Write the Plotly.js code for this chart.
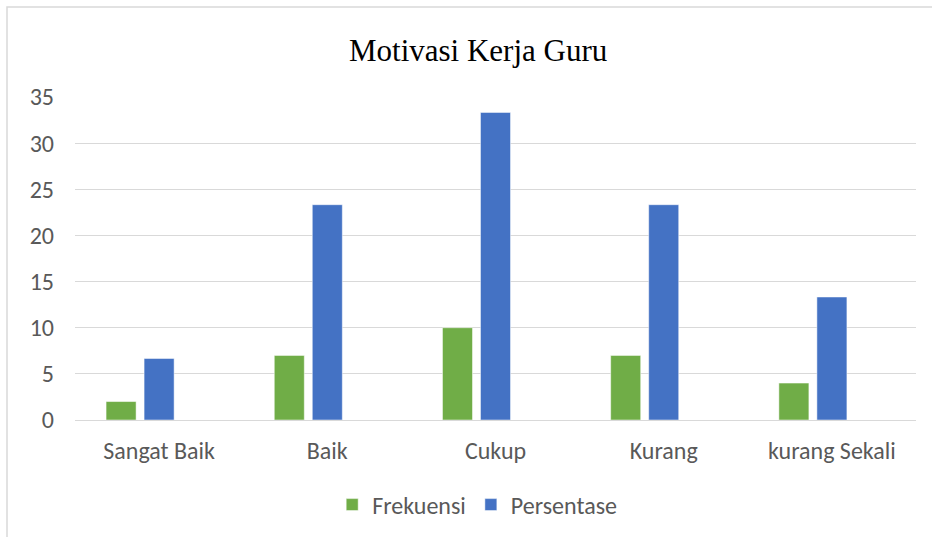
<!DOCTYPE html>
<html>
<head>
<meta charset="utf-8">
<script src="https://cdn.plot.ly/plotly-3.0.1.min.js"></script>
<style>
html,body{margin:0;padding:0;background:#fff;}
#chart{width:932px;height:537px;}
</style>
</head>
<body>
<div id="chart"></div>
<script>
const categories = ["Sangat Baik", "Baik", "Cukup", "Kurang", "kurang Sekali"];
const frekuensi = [2, 7, 10, 7, 4];
const persentase = [6.67, 23.33, 33.33, 23.33, 13.33];
const emptySeries = [null, null, null, null, null];
const yTicks = [0, 5, 10, 15, 20, 25, 30, 35];

const tickFont = {family: "Carlito, 'Liberation Sans', Arial, sans-serif", size: 24, color: "#595959"};

const traces = [
  {type: "bar", name: "Frekuensi", x: categories, y: frekuensi,
   marker: {color: "#70ad47", line: {color: "#ffffff", width: 0.5}}},
  {type: "bar", name: "Persentase", x: categories, y: persentase,
   marker: {color: "#4472c4", line: {color: "#ffffff", width: 0.5}}},
  {type: "bar", name: "", x: categories, y: emptySeries, showlegend: false,
   marker: {color: "#a5a5a5"}}
];

const layout = {
  width: 932, height: 537,
  margin: {l: 75, r: 16, t: 97, b: 117},
  paper_bgcolor: "#ffffff", plot_bgcolor: "#ffffff",
  barmode: "group", bargap: 0.322, bargroupgap: 0.21,
  title: {text: "Motivasi Kerja Guru", xref: "container", x: 0.513, xanchor: "center",
          yref: "container", y: 1 - 50/537, yanchor: "middle",
          font: {family: "'Liberation Serif', 'Times New Roman', serif", size: 31, color: "#000000"}},
  xaxis: {type: "category", showgrid: false, zeroline: false, showline: false,
          ticks: "", tickfont: tickFont, ticklabelstandoff: 14, fixedrange: true},
  yaxis: {range: [0, 35], tickvals: yTicks, ticktext: yTicks.map(String),
          showgrid: true, gridcolor: "#d9d9d9", gridwidth: 1,
          zeroline: true, zerolinecolor: "#d9d9d9", zerolinewidth: 1,
          showline: false, ticks: "", tickfont: tickFont, ticklabelstandoff: 20, fixedrange: true},
  showlegend: true,
  legend: {orientation: "h", xref: "container", yref: "container",
           x: 0.512, xanchor: "center", y: 1 - 505/537, yanchor: "middle",
           font: tickFont, itemwidth: 30, traceorder: "normal"},
  shapes: [{type: "rect", xref: "paper", yref: "paper",
            x0: (7 - 75) / 841, x1: (940 - 75) / 841,
            y0: -(545 - 420) / 323, y1: (420 - 7) / 323,
            line: {color: "#d9d9d9", width: 1.5}, fillcolor: "rgba(0,0,0,0)", layer: "below"}]
};

Plotly.newPlot("chart", traces, layout, {displayModeBar: false, staticPlot: true});
</script>
</body>
</html>
